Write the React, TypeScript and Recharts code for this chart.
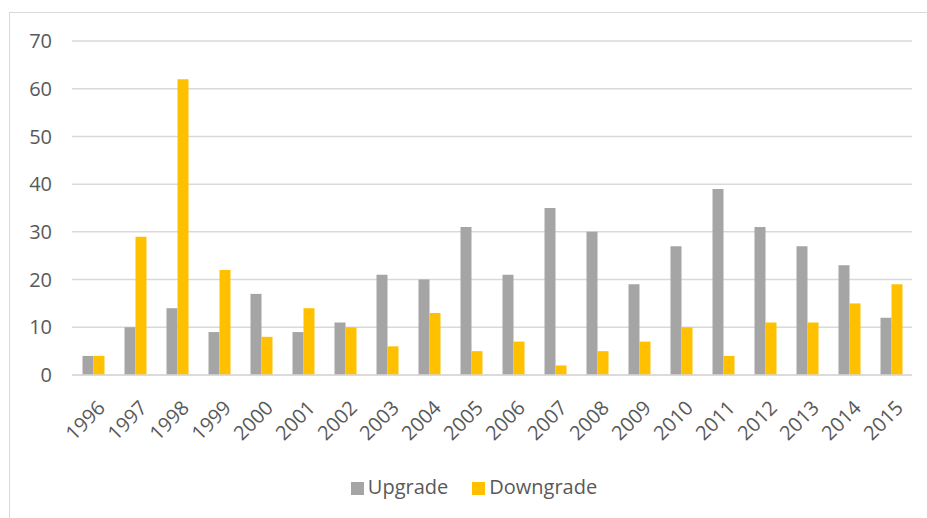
import { Bar, BarChart, CartesianGrid, Legend, XAxis, YAxis } from "recharts";

const years = [
  "1996", "1997", "1998", "1999", "2000", "2001", "2002", "2003", "2004", "2005",
  "2006", "2007", "2008", "2009", "2010", "2011", "2012", "2013", "2014", "2015",
];
const upgrades = [4, 10, 14, 9, 17, 9, 11, 21, 20, 31, 21, 35, 30, 19, 27, 39, 31, 27, 23, 12];
const downgrades = [4, 29, 62, 22, 8, 14, 10, 6, 13, 5, 7, 2, 5, 7, 10, 4, 11, 11, 15, 19];
const yTicks = [0, 10, 20, 30, 40, 50, 60, 70];
const seriesOrder = ["Upgrade", "Downgrade"];

const data = years.map((year, i) => ({
  year,
  Upgrade: upgrades[i],
  Downgrade: downgrades[i],
}));

const FONT = "'Open Sans', sans-serif";
const TEXT = "#595959";

const YearTick = (props: any) => {
  const { x, y, payload } = props;
  return (
    <g transform={`translate(${x},${y})`}>
      <text
        x={0}
        y={0}
        dx={-9}
        dy={28}
        textAnchor="end"
        transform="rotate(-45)"
        fill={TEXT}
        fontSize={20}
        fontFamily={FONT}
      >
        {payload.value}
      </text>
    </g>
  );
};

export default function App() {
  return (
    <div
      style={{
        position: "fixed",
        left: 0,
        top: 0,
        width: 927,
        height: 518,
        background: "#fff",
        overflow: "hidden",
      }}
    >
      {/* title, only its descenders fall inside the crop */}
      <div
        style={{
          position: "absolute",
          left: 12,
          top: -28.5,
          fontFamily: "'Liberation Sans', Arial, sans-serif",
          fontWeight: "bold",
          fontSize: 25,
          color: "#000",
          whiteSpace: "nowrap",
        }}
      >
        Figure 14: Rating Upgrades and Downgrades
      </div>
      <div
        style={{
          position: "absolute",
          left: 9,
          top: 12,
          width: 940,
          height: 540,
          border: "1.5px solid #d9d9d9",
        }}
      />
      <div style={{ position: "absolute", left: 0, top: 0 }}>
        <BarChart
          width={927}
          height={518}
          data={data}
          margin={{ top: 41, right: 15, left: 12, bottom: 18 }}
          barCategoryGap="25%"
          barGap={0}
        >
          <CartesianGrid vertical={false} stroke="#d9d9d9" strokeWidth={1.5} />
          <XAxis
            dataKey="year"
            interval={0}
            height={98}
            tick={<YearTick />}
            tickLine={false}
            axisLine={{ stroke: "#d9d9d9", strokeWidth: 1.5 }}
          />
          <YAxis
            width={60}
            domain={[0, 70]}
            ticks={yTicks}
            tickLine={false}
            axisLine={false}
            tick={{ fill: TEXT, fontSize: 20, fontFamily: FONT }}
            tickMargin={14}
          />
          <Legend
            verticalAlign="bottom"
            iconType="square"
            iconSize={13}
            itemSorter={(item: any) => seriesOrder.indexOf(item.dataKey)}
            wrapperStyle={{ fontFamily: FONT, fontSize: 20, color: TEXT, left: 29 }}
            formatter={(value: string) => (
              <span style={{ color: TEXT, marginRight: value === "Upgrade" ? 14 : 0 }}>{value}</span>
            )}
          />
          <Bar dataKey="Upgrade" fill="#a5a5a5" isAnimationActive={false} />
          <Bar dataKey="Downgrade" fill="#ffc000" isAnimationActive={false} />
        </BarChart>
      </div>
    </div>
  );
}
